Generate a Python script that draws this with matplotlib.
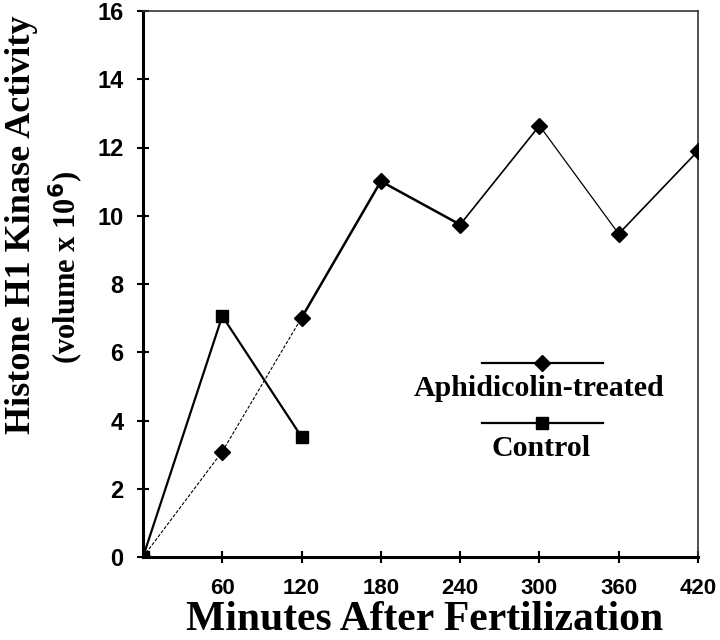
import matplotlib
matplotlib.use("Agg")
import matplotlib.pyplot as plt
import numpy as np

minutes = [0, 60, 120, 180, 240, 300, 360, 420]
aphidicolin = [0.0, 3.09, 7.01, 11.01, 9.74, 12.64, 9.47, 11.90]
control_minutes = [0, 60, 120]
control = [0.0, 7.06, 3.52]
x_ticks = [60, 120, 180, 240, 300, 360, 420]
y_ticks = [0, 2, 4, 6, 8, 10, 12, 14, 16]

# per-segment line widths for the treated series (as drawn in the original)
seg_widths = [0.8, 0.8, 1.8, 1.8, 1.2, 0.9, 1.2]
seg_styles = [(0, (3, 1.5)), (0, (3, 1.5)), '-', '-', '-', '-', '-']

serif = ['Liberation Serif', 'DejaVu Serif']
sans = ['Liberation Sans', 'DejaVu Sans']

fig = plt.figure(figsize=(7.2, 6.4), dpi=100)
ax = fig.add_axes([143/720, 1 - 557/640, (698-143)/720, (557-11)/640])

ax.plot(control_minutes, control, color='black', lw=1.6, marker='s', ms=8,
        zorder=3)
for i in range(len(minutes) - 1):
    ax.plot(minutes[i:i+2], aphidicolin[i:i+2], color='black',
            lw=seg_widths[i], linestyle=seg_styles[i], zorder=2)
ax.plot(minutes, aphidicolin, linestyle='none', marker='D', ms=8,
        color='black', zorder=4)

ax.set_xlim(0, 420)
ax.set_ylim(0, 16)
ax.set_xticks(x_ticks)
ax.set_xticklabels([str(v) for v in x_ticks], fontfamily=sans,
                   fontweight='bold', fontsize=16)
ax.set_yticks(y_ticks)
ax.set_yticklabels([str(v) for v in y_ticks], fontfamily=sans,
                   fontweight='bold', fontsize=17)
ax.tick_params(axis='both', direction='inout', length=8, width=1.5)
ax.tick_params(axis='x', pad=11)
ax.tick_params(axis='y', pad=10)

for s in ['left', 'bottom']:
    ax.spines[s].set_linewidth(2.2)
for s in ['top', 'right']:
    ax.spines[s].set_linewidth(1.2)
    ax.spines[s].set_color('#333333')

# legend drawn in axes coordinates
tr = ax.transAxes
def fx(v):
    return v / 420
def fy(v):
    return v / 16
ax.plot([fx(256.5), fx(348)], [fy(5.68), fy(5.68)], color='black', lw=1.6,
        transform=tr, clip_on=False)
ax.plot([fx(302)], [fy(5.68)], marker='D', ms=8, color='black',
        transform=tr, clip_on=False)
ax.text(fx(300), fy(4.95), 'Aphidicolin-treated', transform=tr,
        ha='center', va='center', fontfamily=serif, fontweight='bold',
        fontsize=21.5)
ax.plot([fx(256.5), fx(348)], [fy(3.93), fy(3.93)], color='black', lw=1.6,
        transform=tr, clip_on=False)
ax.plot([fx(302)], [fy(3.93)], marker='s', ms=8, color='black',
        transform=tr, clip_on=False)
ax.text(fx(301), fy(3.19), 'Control', transform=tr,
        ha='center', va='center', fontfamily=serif, fontweight='bold',
        fontsize=21.5)

fig.text(22/720, 1 - 225/640, 'Histone H1 Kinase Activity', rotation=90,
         ha='center', va='center', fontfamily=serif, fontweight='bold',
         fontsize=26)
fig.text(66/720, 1 - 268/640, r'(volume x 10$^{\mathbf{6}}$)', rotation=90,
         ha='center', va='center', fontfamily=serif, fontweight='bold',
         fontsize=22)
fig.text(425/720, 1/640, 'Minutes After Fertilization',
         ha='center', va='bottom', fontfamily=serif, fontweight='bold',
         fontsize=30)

fig.savefig('out.png', dpi=100)
